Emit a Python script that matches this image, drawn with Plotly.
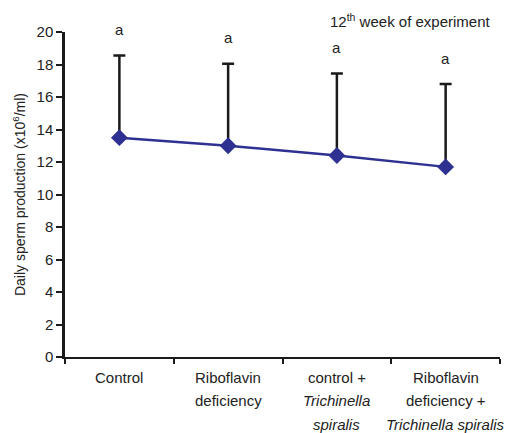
import plotly.graph_objects as go

categories = ["Control", "Riboflavin deficiency", "control + Trichinella spiralis",
              "Riboflavin deficiency + Trichinella spiralis"]
label_lines = [
    ["Control"],
    ["Riboflavin", "deficiency"],
    ["control +", "<i>Trichinella</i>", "<i>spiralis</i>"],
    ["Riboflavin", "deficiency +", "<i>Trichinella spiralis</i>"],
]
means = [13.5, 13.0, 12.4, 11.7]
err_plus = [5.05, 5.05, 5.05, 5.1]
letters = ["a", "a", "a", "a"]
y_ticks = [0, 2, 4, 6, 8, 10, 12, 14, 16, 18, 20]

FONT = "Liberation Sans, Arial, sans-serif"
TXT = "#222222"

fig = go.Figure()
fig.add_trace(go.Scatter(
    x=categories, y=means, mode="lines+markers",
    line=dict(color="#2E3192", width=2.5),
    marker=dict(symbol="diamond", size=13, color="#2E3192"),
    error_y=dict(type="data", symmetric=False, array=err_plus, arrayminus=[0]*4,
                 color="#1a1a1a", thickness=2.5, width=6),
    showlegend=False,
))

annotations = []
for c, m, e, l in zip(categories, means, err_plus, letters):
    annotations.append(dict(x=c, y=m + e, xref="x", yref="y", text=l, showarrow=False,
                            yshift=26, yanchor="middle",
                            font=dict(size=15, color=TXT, family=FONT)))
for c, lines in zip(categories, label_lines):
    for i, t in enumerate(lines):
        annotations.append(dict(x=c, y=0, xref="x", yref="paper", text=t, showarrow=False,
                                yshift=-20 - 23.5 * i, yanchor="middle",
                                font=dict(size=15, color=TXT, family=FONT)))
annotations.append(dict(x=0.795, y=1.0, xref="paper", yref="paper",
                        text="12<sup>th</sup> week of experiment", showarrow=False, yshift=12,
                        xanchor="center", yanchor="middle",
                        font=dict(size=15, color=TXT, family=FONT)))

fig.update_layout(
    width=513, height=425,
    margin=dict(l=57, r=21, t=24, b=76),
    plot_bgcolor="white", paper_bgcolor="white",
    font=dict(family=FONT, size=15, color=TXT),
    annotations=annotations,
    xaxis=dict(type="category", range=[-0.5, 3.5], showticklabels=False,
               tickson="boundaries", ticks="outside", ticklen=5, tickwidth=2, tickcolor="#1a1a1a",
               showline=True, linecolor="#1a1a1a", linewidth=2, showgrid=False, zeroline=False),
    yaxis=dict(range=[0, 20], tickvals=y_ticks, ticks="outside", ticklen=6, tickwidth=1.5,
               tickcolor="#1a1a1a", showline=True, linecolor="#1a1a1a", linewidth=2.5,
               showgrid=False, zeroline=False, tickfont=dict(size=15, color=TXT),
               automargin=False,
               title=dict(text="Daily sperm production (x10<sup>6</sup>/ml)",
                          font=dict(size=14, color=TXT), standoff=8)),
)
fig.write_html("out.html")
